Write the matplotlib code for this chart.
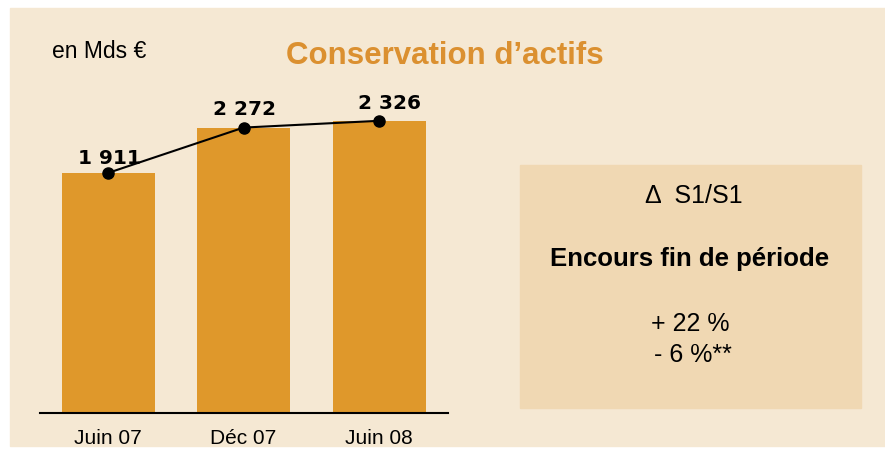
import matplotlib
matplotlib.use("Agg")
from matplotlib import pyplot as plt
from matplotlib.patches import Rectangle

# Data
periods = ["Juin 07", "Déc 07", "Juin 08"]
encours = [1911, 2272, 2326]
value_labels = ["1 911", "2 272", "2 326"]

unit_label = "en Mds €"
title = "Conservation d’actifs"
box_header = "Δ  S1/S1"
box_subtitle = "Encours fin de période"
box_values = ["+ 22 %", "- 6 %**"]

# Styles
W, H = 885, 452
bg_col = "#F5E8D3"
box_col = "#F0D8B3"
bar_col = "#DF982B"
title_col = "#DB9030"
label_offsets = [(0.7, 7.2), (0.4, 10.0), (7.5, 9.4)]   # points, (dx, dy)


def fx(px):
    return px / W


def fy(py):
    return 1 - py / H


fig = plt.figure(figsize=(W / 100, H / 100), dpi=100)
fig.patch.set_facecolor("white")

# beige panel and right-hand box
fig.patches.append(Rectangle((fx(10), fy(447)), fx(885) - fx(10), fy(9) - fy(447),
                             transform=fig.transFigure, color=bg_col, zorder=-2))
fig.patches.append(Rectangle((fx(520), fy(409)), fx(861) - fx(520), fy(166) - fy(409),
                             transform=fig.transFigure, color=box_col, zorder=-1))

# bar chart
ax = fig.add_axes([fx(40), fy(414), fx(448) - fx(40), fy(60) - fy(414)])
ax.set_zorder(2)
ax.set_facecolor("none")
x = list(range(len(periods)))
ax.bar(x, encours, width=0.686, color=bar_col, zorder=2)
ax.plot(x, encours, color="black", lw=1.5, marker="o", ms=8, zorder=4)

for xi, v, lab, (dx, dy) in zip(x, encours, value_labels, label_offsets):
    ax.annotate(lab, (xi, v), xytext=(dx, dy), textcoords="offset points",
                ha="center", va="baseline", fontsize=14.5, fontweight="bold",
                family="DejaVu Sans", color="black", zorder=5)

ax.set_xlim(-0.502, 2.509)
ax.set_ylim(0, 2818)
ax.set_yticks([])
ax.set_xticks(x, periods, family="Liberation Sans", fontsize=15)
ax.tick_params(axis="x", length=0, pad=11)
for s in ["top", "left", "right"]:
    ax.spines[s].set_visible(False)
ax.spines["bottom"].set_linewidth(1.5)
ax.spines["bottom"].set_zorder(3)

# header texts
fig.text(fx(52), fy(58), unit_label, family="Liberation Sans", fontsize=16.5,
         ha="left", va="baseline")
fig.text(fx(445), fy(64), title, family="Liberation Sans", fontsize=22.5,
         fontweight="bold", color=title_col, ha="center", va="baseline")

# box texts
fig.text(fx(694), fy(203), box_header, family="Liberation Sans", fontsize=18,
         ha="center", va="baseline", zorder=3)
fig.text(fx(690), fy(266), box_subtitle, family="Liberation Sans", fontsize=18.5,
         fontweight="bold", ha="center", va="baseline", zorder=3)
fig.text(fx(690), fy(331), box_values[0], family="Liberation Sans", fontsize=18,
         ha="center", va="baseline", zorder=3)
fig.text(fx(693), fy(362), box_values[1], family="Liberation Sans", fontsize=18,
         ha="center", va="baseline", zorder=3)

fig.savefig("out.png", dpi=100)
